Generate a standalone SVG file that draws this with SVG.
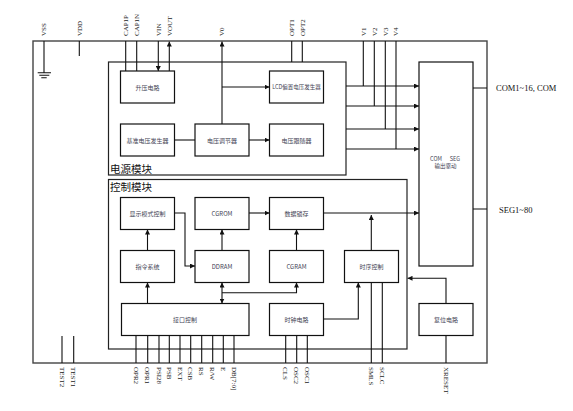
<svg xmlns="http://www.w3.org/2000/svg" width="573" height="411" viewBox="0 0 573 411">
<style>
.frame{fill:none;stroke:#444;stroke-width:1.4}
.mod{fill:none;stroke:#222;stroke-width:1.2}
.box{fill:#fff;stroke:#111;stroke-width:1.2}
.ln{fill:none;stroke:#111;stroke-width:1.1}
.pin{font-family:"Liberation Serif",serif;font-size:7px;fill:#222}
.side{font-family:"Liberation Serif",serif;font-size:8.5px;fill:#111}
.lbl{font-family:"Noto Sans CJK SC",sans-serif;font-size:6px;fill:#445;text-anchor:middle;dominant-baseline:central}
.modl{font-family:"Noto Sans CJK SC",sans-serif;font-size:10.5px;fill:#111}
</style>
<defs>
<marker id="arr" viewBox="0 0 6 6" refX="6" refY="3" markerWidth="5" markerHeight="5" markerUnits="userSpaceOnUse" orient="auto-start-reverse">
<path d="M0,0 L6,3 L0,6 z" fill="#111"/>
</marker>
</defs>
<rect class="frame" x="33" y="41" width="454" height="322"/>
<g id="power-module">
<rect class="mod" x="108.5" y="62" width="237.5" height="113"/>
<text class="modl" x="110" y="173">电源模块</text>
</g>
<g id="control-module">
<rect class="mod" x="108.5" y="179.5" width="298.5" height="169.5"/>
<text class="modl" x="110" y="191">控制模块</text>
</g>
<g id="connectors">
<path class="ln" d="M44,41 V72.7 M37.7,72.7 H51 M39.3,75.3 H49.3 M41.3,77.7 H46.7"/>
<path class="ln" d="M79.3,41 V56"/>
<path class="ln" d="M125.7,41 V71 M136.7,41 V71"/>
<path class="ln" d="M158.3,41 V71" marker-end="url(#arr)"/>
<path class="ln" d="M169.3,71 V41.5" marker-end="url(#arr)"/>
<path class="ln" d="M222,124 V41.5" marker-end="url(#arr)"/>
<path class="ln" d="M222,87 H269.5" marker-end="url(#arr)"/>
<path class="ln" d="M291.7,41 V62 M302.3,41 V62"/>
<path class="ln" d="M363.3,41 V86 M374.3,41 V106 M385.3,41 V129 M396,41 V149"/>
<path class="ln" d="M346,86 H419" marker-end="url(#arr)"/>
<path class="ln" d="M346,106 H419" marker-end="url(#arr)"/>
<path class="ln" d="M346,129 H419" marker-end="url(#arr)"/>
<path class="ln" d="M346,149 H419" marker-end="url(#arr)"/>
<path class="ln" d="M174.5,140 H195"/>
<path class="ln" d="M249,140 H269.5" marker-end="url(#arr)"/>
<path class="ln" d="M473,88 H487 M473,209 H487"/>
<path class="ln" d="M174.5,213 H185 V266 H195" marker-end="url(#arr)"/>
<path class="ln" d="M147.5,250.5 V229.5" marker-end="url(#arr)"/>
<path class="ln" d="M147.5,303.5 V282.5" marker-end="url(#arr)"/>
<path class="ln" d="M222,250.5 V229.5" marker-end="url(#arr)"/>
<path class="ln" d="M249,213 H269.5" marker-end="url(#arr)"/>
<path class="ln" d="M296.5,250.5 V229.5" marker-end="url(#arr)"/>
<path class="ln" d="M323.5,213 H419" marker-end="url(#arr)"/>
<path class="ln" d="M371.3,250.5 V215" marker-end="url(#arr)"/>
<path class="ln" d="M222,303.5 V282.5" marker-start="url(#arr)" marker-end="url(#arr)"/>
<path class="ln" d="M222,292.7 H296.5 V282.5" marker-end="url(#arr)"/>
<path class="ln" d="M323.5,319 H358.3 V282.5" marker-end="url(#arr)"/>
<path class="ln" d="M446,303.5 V278.3 H407.5" marker-end="url(#arr)"/>
<path class="ln" d="M446,335.5 V363 M371.3,282.5 V363 M382.3,282.5 V363"/>
<path class="ln" d="M136,335.5 V363 M147.7,335.5 V363 M159,335.5 V363 M169.3,335.5 V363 M180,335.5 V363 M190.7,335.5 V363 M201.7,335.5 V363 M212.7,335.5 V363 M223.3,335.5 V363 M234,335.5 V363"/>
<path class="ln" d="M285.7,335.5 V363 M296.7,335.5 V363 M307.3,335.5 V363"/>
<path class="ln" d="M62,336 V363 M73.7,336 V363"/>
</g>
<g id="boost"><rect class="box" x="120.5" y="71" width="54" height="32"/><text class="lbl" x="147.5" y="87">升压电路</text></g>
<g id="lcd-bias"><rect class="box" x="269.5" y="71" width="54" height="32"/><text class="lbl" x="296.5" y="87" style="font-size:5.5px">LCD偏置电压发生器</text></g>
<g id="ref-gen"><rect class="box" x="120.5" y="124" width="54" height="32"/><text class="lbl" x="147.5" y="140">基准电压发生器</text></g>
<g id="regulator"><rect class="box" x="195" y="124" width="54" height="32"/><text class="lbl" x="222" y="140">电压调节器</text></g>
<g id="follower"><rect class="box" x="269.5" y="124" width="54" height="32"/><text class="lbl" x="296.5" y="140">电压跟随器</text></g>
<g id="com-seg"><rect class="box" x="419" y="62" width="54" height="204"/><text class="lbl" style="font-size:5.5px"><tspan x="436" y="159">COM</tspan><tspan x="455" y="159">SEG</tspan></text><text class="lbl" x="445.5" y="166" style="font-size:5.5px">输出驱动</text></g>
<g id="disp-mode"><rect class="box" x="120.5" y="197.5" width="54" height="32"/><text class="lbl" x="147.5" y="213.5">显示模式控制</text></g>
<g id="cgrom"><rect class="box" x="195" y="197.5" width="54" height="32"/><text class="lbl" x="222" y="213.5">CGROM</text></g>
<g id="latch"><rect class="box" x="269.5" y="197.5" width="54" height="32"/><text class="lbl" x="296.5" y="213.5">数据锁存</text></g>
<g id="instr"><rect class="box" x="120.5" y="250.5" width="54" height="32"/><text class="lbl" x="147.5" y="266.5">指令系统</text></g>
<g id="ddram"><rect class="box" x="195" y="250.5" width="54" height="32"/><text class="lbl" x="222" y="266.5">DDRAM</text></g>
<g id="cgram"><rect class="box" x="269.5" y="250.5" width="54" height="32"/><text class="lbl" x="296.5" y="266.5">CGRAM</text></g>
<g id="timing"><rect class="box" x="344.5" y="250.5" width="54" height="32"/><text class="lbl" x="371.5" y="266.5">时序控制</text></g>
<g id="iface"><rect class="box" x="121.5" y="303.5" width="127.5" height="32"/><text class="lbl" x="185" y="319.5">接口控制</text></g>
<g id="clock"><rect class="box" x="269.5" y="303.5" width="54" height="32"/><text class="lbl" x="296.5" y="319.5">时钟电路</text></g>
<g id="reset"><rect class="box" x="419" y="303.5" width="54" height="32"/><text class="lbl" x="446" y="319.5">复位电路</text></g>
<g id="pin-labels">
<text class="pin" transform="translate(46.3,36) rotate(-90)">VSS</text>
<text class="pin" transform="translate(81.6,36) rotate(-90)">VDD</text>
<text class="pin" transform="translate(128,36) rotate(-90)">CAP1P</text>
<text class="pin" transform="translate(139,36) rotate(-90)">CAP1N</text>
<text class="pin" transform="translate(160.6,36) rotate(-90)">VIN</text>
<text class="pin" transform="translate(171.6,36) rotate(-90)">VOUT</text>
<text class="pin" transform="translate(224.3,36) rotate(-90)">V0</text>
<text class="pin" transform="translate(294,36) rotate(-90)">OPT1</text>
<text class="pin" transform="translate(304.6,36) rotate(-90)">OPT2</text>
<text class="pin" transform="translate(365.6,36) rotate(-90)">V1</text>
<text class="pin" transform="translate(376.6,36) rotate(-90)">V2</text>
<text class="pin" transform="translate(387.6,36) rotate(-90)">V3</text>
<text class="pin" transform="translate(398.3,36) rotate(-90)">V4</text>
<text class="pin" transform="translate(59.7,367) rotate(90)">TEST2</text>
<text class="pin" transform="translate(71.4,367) rotate(90)">TEST1</text>
<text class="pin" transform="translate(133.7,367) rotate(90)">OPR2</text>
<text class="pin" transform="translate(145.4,367) rotate(90)">OPR1</text>
<text class="pin" transform="translate(156.7,367) rotate(90)">PSI28</text>
<text class="pin" transform="translate(167,367) rotate(90)">PSB</text>
<text class="pin" transform="translate(177.7,367) rotate(90)">EXT</text>
<text class="pin" transform="translate(188.4,367) rotate(90)">CSB</text>
<text class="pin" transform="translate(199.4,367) rotate(90)">RS</text>
<text class="pin" transform="translate(210.4,367) rotate(90)">R/W</text>
<text class="pin" transform="translate(221,367) rotate(90)">E</text>
<text class="pin" transform="translate(231.7,367) rotate(90)">DB[7:0]</text>
<text class="pin" transform="translate(283.4,367) rotate(90)">CLS</text>
<text class="pin" transform="translate(294.4,367) rotate(90)">OSC2</text>
<text class="pin" transform="translate(305,367) rotate(90)">OSC1</text>
<text class="pin" transform="translate(369,367) rotate(90)">SMLS</text>
<text class="pin" transform="translate(380,367) rotate(90)">SCLC</text>
<text class="pin" transform="translate(443.7,367) rotate(90)">XRESET</text>
<text class="side" x="496" y="91">COM1~16, COM</text>
<text class="side" x="499" y="212.5">SEG1~80</text>
</g>
</svg>
